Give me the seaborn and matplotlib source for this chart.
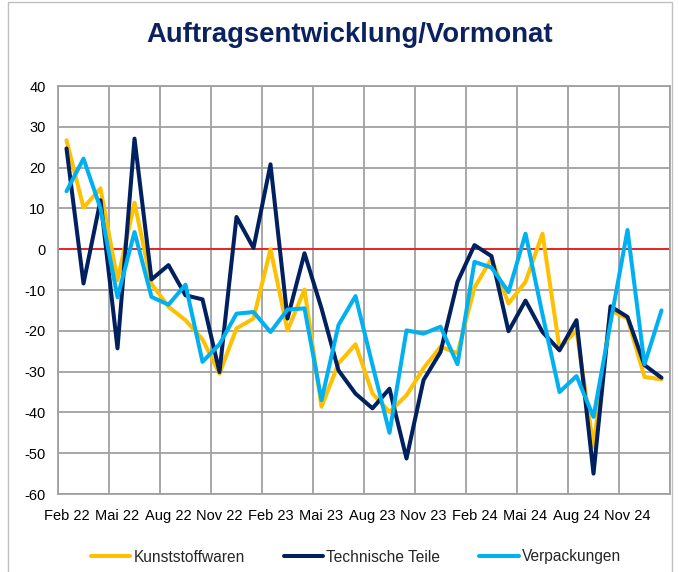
import matplotlib
matplotlib.use("Agg")
import matplotlib.pyplot as plt
import seaborn as sns
import pandas as pd
import numpy as np
from matplotlib.lines import Line2D
from matplotlib.patches import Rectangle

months = ["Feb 22", "Mär 22", "Apr 22", "Mai 22", "Jun 22", "Jul 22", "Aug 22", "Sep 22",
          "Okt 22", "Nov 22", "Dez 22", "Jan 23", "Feb 23", "Mär 23", "Apr 23", "Mai 23",
          "Jun 23", "Jul 23", "Aug 23", "Sep 23", "Okt 23", "Nov 23", "Dez 23", "Jan 24",
          "Feb 24", "Mär 24", "Apr 24", "Mai 24", "Jun 24", "Jul 24", "Aug 24", "Sep 24",
          "Okt 24", "Nov 24", "Dez 24", "Jan 25"]

kunststoffwaren = [26.7, 10.2, 14.9, -7.6, 11.4, -8.5, -14.1, -17.4, -22.1, -30.5, -19.4, -17.0,
                   0.0, -19.9, -9.9, -38.6, -28.0, -23.3, -35.4, -39.9, -35.8, -29.2, -23.9, -25.5,
                   -9.4, -2.3, -13.3, -8.0, 3.8, -24.3, -19.9, -48.5, -15.0, -17.0, -31.3, -31.9]

technische_teile = [24.7, -8.4, 12.0, -24.3, 27.1, -7.4, -3.9, -11.3, -12.3, -30.1, 7.9, 0.3,
                    20.8, -17.0, -1.0, -14.5, -29.7, -35.4, -39.0, -34.2, -51.3, -32.1, -25.2, -8.0,
                    1.0, -1.7, -20.1, -12.6, -20.3, -24.8, -17.4, -55.0, -14.0, -16.6, -28.4, -31.5]

verpackungen = [14.2, 22.2, 10.0, -11.8, 4.2, -11.7, -13.6, -8.7, -27.6, -23.3, -15.8, -15.4,
                -20.3, -14.8, -14.5, -37.0, -18.6, -11.5, -28.4, -45.0, -19.9, -20.7, -19.0, -28.2,
                -3.1, -4.5, -10.5, 3.8, -16.0, -35.0, -31.1, -41.1, -18.0, 4.7, -28.2, -15.0]

series_names = ["Kunststoffwaren", "Technische Teile", "Verpackungen"]
colors = ["#FFC000", "#002060", "#00B0F0"]
tick_labels = ["Feb 22", "Mai 22", "Aug 22", "Nov 22", "Feb 23", "Mai 23", "Aug 23",
               "Nov 23", "Feb 24", "Mai 24", "Aug 24", "Nov 24"]
title = "Auftragsentwicklung/Vormonat"

n = len(months)
df = pd.DataFrame({
    "idx": list(range(n)) * 3,
    "Monat": months * 3,
    "Wert": kunststoffwaren + technische_teile + verpackungen,
    "Reihe": [series_names[0]] * n + [series_names[1]] * n + [series_names[2]] * n,
})

sns.set_theme(style="white")
plt.rcParams["font.family"] = ["Liberation Sans", "DejaVu Sans"]

fig = plt.figure(figsize=(6.79, 5.72), dpi=100)
ax = fig.add_axes([58 / 679, 78 / 572, 612 / 679, 408 / 572])

sns.lineplot(data=df, x="idx", y="Wert", hue="Reihe", palette=dict(zip(series_names, colors)),
             linewidth=2.9, ax=ax, legend=False, sort=False, zorder=3)

ax.axhline(0, color="#FF0000", linewidth=1.1, zorder=2)

ax.set_xlim(-0.5, n - 0.5)
ax.set_ylim(-60, 40)
ax.set_yticks(np.arange(-60, 41, 10))
ax.set_yticklabels([str(v) for v in range(-60, 41, 10)], fontsize=10.5)

ax.set_xticks(np.arange(0, n, 3)[:len(tick_labels)])
ax.set_xticklabels(tick_labels, fontsize=10.5)
ax.set_xticks(np.arange(-0.5, n, 3), minor=True)
ax.tick_params(axis="both", which="both", length=0, colors="black")
ax.tick_params(axis="y", pad=9)
ax.tick_params(axis="x", pad=11)
ax.grid(False)
ax.grid(True, which="minor", axis="x", color="#A0A0A0", linewidth=1.3, zorder=1)
ax.grid(True, which="major", axis="y", color="#A0A0A0", linewidth=1.3, zorder=1)
ax.set_axisbelow(True)
for s in ax.spines.values():
    s.set_color("#A0A0A0")
    s.set_linewidth(1.3)
ax.set_xlabel("")
ax.set_ylabel("")

fig.text(350 / 679, 1 - 35 / 572, title, ha="center", va="center", fontsize=19.8,
         fontweight="bold", color="#0B2260")

handles = [Line2D([0], [0], color=c, linewidth=2.9) for c in colors]
fig.legend(handles, series_names, loc="center", bbox_to_anchor=(356 / 679, 1 - 557 / 572), ncol=3,
           frameon=False, fontsize=11.2, handlelength=2.55, handletextpad=0.2, columnspacing=2.5)

fig.patches.append(Rectangle((8 / 679, -0.01), 664 / 679, 1 - 2 / 572 + 0.01,
                             transform=fig.transFigure, fill=False, edgecolor="#C0C0C0",
                             linewidth=1.0))

fig.savefig("out.png", dpi=100)
